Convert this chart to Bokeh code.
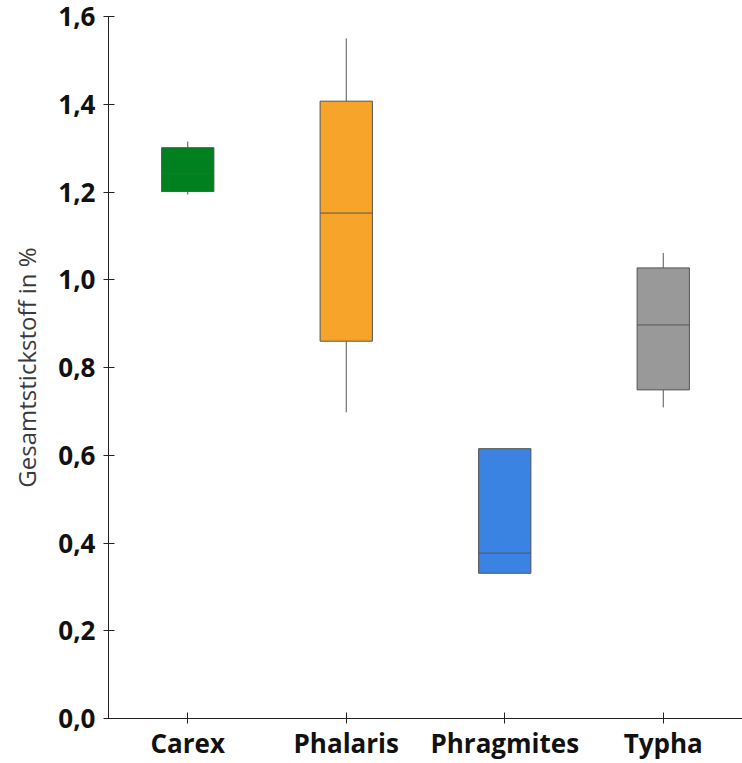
from bokeh.plotting import figure
from bokeh.models import Range1d, FixedTicker, ColumnDataSource
from bokeh.embed import file_html
from bokeh.resources import INLINE

categories = ["Carex", "Phalaris", "Phragmites", "Typha"]
whisker_low = [1.194, 0.698, 0.331, 0.709]
q1 = [1.201, 0.860, 0.331, 0.749]
median = [1.242, 1.152, 0.377, 0.897]
q3 = [1.301, 1.407, 0.615, 1.027]
whisker_high = [1.315, 1.550, 0.615, 1.061]
colors = ["#00801F", "#F7A52A", "#3A83E2", "#999999"]
y_ticks = [0.0, 0.2, 0.4, 0.6, 0.8, 1.0, 1.2, 1.4, 1.6]
y_tick_labels = ["0,0", "0,2", "0,4", "0,6", "0,8", "1,0", "1,2", "1,4", "1,6"]
y_title = "Gesamtstickstoff in %"

box_w = 0.33
xs = list(range(len(categories)))
src = ColumnDataSource(dict(
    x=xs, q1=q1, q3=q3, med=median, lo=whisker_low, hi=whisker_high, color=colors,
    x0=[x - box_w / 2 for x in xs], x1=[x + box_w / 2 for x in xs],
))

p = figure(width=742, height=763, output_backend="svg", toolbar_location=None,
           x_range=Range1d(-0.5, 3.5), y_range=Range1d(0, 1.6),
           min_border_top=16, min_border_right=0, min_border_left=108, min_border_bottom=42)
p.grid.visible = False
p.outline_line_color = None
p.background_fill_color = "white"
p.border_fill_color = "white"

line_col = "#555555"
p.segment(x0="x", x1="x", y0="q3", y1="hi", source=src, line_color=line_col, line_width=1)
p.segment(x0="x", x1="x", y0="lo", y1="q1", source=src, line_color=line_col, line_width=1)
p.vbar(x="x", width=box_w, bottom="q1", top="q3", source=src, fill_color="color",
       line_color=line_col, line_width=1)
p.segment(x0="x0", x1="x1", y0="med", y1="med", source=src, line_color=line_col, line_width=1)

p.xaxis.ticker = FixedTicker(ticks=xs)
p.xaxis.major_label_overrides = {i: c for i, c in enumerate(categories)}
p.yaxis.ticker = FixedTicker(ticks=y_ticks)
p.yaxis.major_label_overrides = {t: l for t, l in zip(y_ticks, y_tick_labels)}

for ax in (p.xaxis, p.yaxis):
    ax.minor_tick_line_color = None
    ax.major_tick_in = 6
    ax.major_tick_out = 5
    ax.axis_line_color = "#222222"
    ax.major_tick_line_color = "#222222"
    ax.major_label_text_font = "Open Sans"
    ax.major_label_text_font_style = "bold"
    ax.major_label_text_font_size = "26px"
    ax.major_label_text_color = "#111111"

p.yaxis.major_label_standoff = 8
p.xaxis.major_label_standoff = 1
p.yaxis.axis_label = y_title
p.yaxis.axis_label_text_font = "Open Sans"
p.yaxis.axis_label_text_font_style = "normal"
p.yaxis.axis_label_text_font_size = "24px"
p.yaxis.axis_label_text_color = "#3a3a3a"
p.yaxis.axis_label_standoff = 12

open("out.html", "w").write(file_html(p, INLINE))
